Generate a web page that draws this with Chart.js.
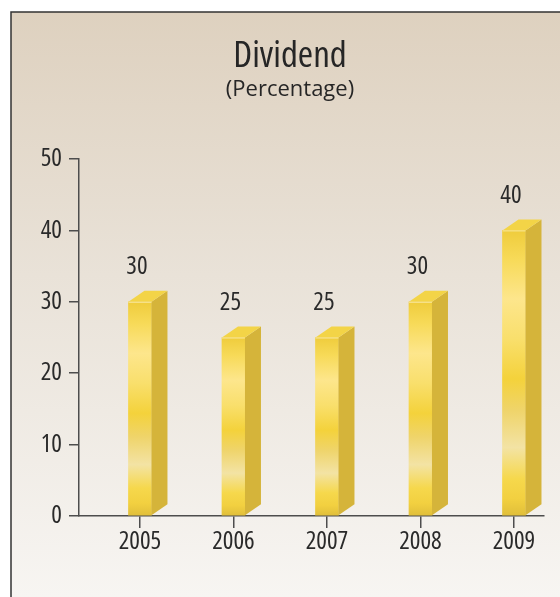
<!DOCTYPE html>
<html>
<head>
<meta charset="utf-8">
<title>Dividend</title>
<script src="https://cdn.jsdelivr.net/npm/chart.js@4/dist/chart.umd.min.js"></script>
<style>
  html, body { margin: 0; padding: 0; background: #ffffff; }
  #wrap { width: 560px; height: 597px; }
</style>
</head>
<body>
<div id="wrap"><canvas id="chart" width="560" height="597"></canvas></div>
<script>
// Dividend per year, in percent
const years = ['2005', '2006', '2007', '2008', '2009'];
const dividend = [30, 25, 25, 30, 40];
const yTicks = [0, 10, 20, 30, 40, 50];

// narrow humanist face: Open Sans at its condensed width
const FONT = "'Open Sans', 'Liberation Sans', sans-serif";
const NARROW = 'condensed';
const TEXT = '#2a2a2a';
const AXIS = '#4d4d4d';

// 3D depth of the bars
const DEPTH_X = 16;
const DEPTH_Y = 11;

// framed panel with a warm beige-to-white wash
const panelBackground = {
  id: 'panelBackground',
  beforeDraw(chart) {
    const { ctx, width, height } = chart;
    ctx.save();
    ctx.fillStyle = '#ffffff';
    ctx.fillRect(0, 0, width, height);
    const g = ctx.createLinearGradient(0, 12, 0, height);
    g.addColorStop(0, '#ded1bf');
    g.addColorStop(0.45, '#e9e2d8');
    g.addColorStop(1, '#f7f5f2');
    ctx.fillStyle = g;
    ctx.fillRect(11, 12, width - 11, height - 12);
    ctx.strokeStyle = '#333333';
    ctx.lineWidth = 1.5;
    ctx.beginPath();
    ctx.moveTo(11, height);
    ctx.lineTo(11, 12);
    ctx.lineTo(width, 12);
    ctx.stroke();
    ctx.restore();
  }
};

// side and top faces of each bar, plus the value above it
const bars3d = {
  id: 'bars3d',
  afterDatasetsDraw(chart) {
    const { ctx } = chart;
    const yScale = chart.scales.y;
    const meta = chart.getDatasetMeta(0);
    ctx.save();
    meta.data.forEach((bar, i) => {
      const { x, y, base, width } = bar.getProps(['x', 'y', 'base', 'width'], true);
      const left = x - width / 2;
      const right = x + width / 2;

      // side face
      ctx.fillStyle = '#d5b43a';
      ctx.beginPath();
      ctx.moveTo(right, y);
      ctx.lineTo(right + DEPTH_X, y - DEPTH_Y);
      ctx.lineTo(right + DEPTH_X, base - DEPTH_Y);
      ctx.lineTo(right, base);
      ctx.closePath();
      ctx.fill();

      // top face
      ctx.fillStyle = '#f3d447';
      ctx.beginPath();
      ctx.moveTo(left, y);
      ctx.lineTo(left + DEPTH_X, y - DEPTH_Y);
      ctx.lineTo(right + DEPTH_X, y - DEPTH_Y);
      ctx.lineTo(right, y);
      ctx.closePath();
      ctx.fill();

      // light edge between top and front
      ctx.strokeStyle = '#f8e79c';
      ctx.lineWidth = 1;
      ctx.beginPath();
      ctx.moveTo(left, y + 0.5);
      ctx.lineTo(right, y + 0.5);
      ctx.stroke();

      // value label
      const v = chart.data.datasets[0].data[i].y;
      ctx.fillStyle = TEXT;
      ctx.font = NARROW + ' 25px ' + FONT;
      ctx.textAlign = 'center';
      ctx.textBaseline = 'middle';
      ctx.fillText(String(v), x - 3, yScale.getPixelForValue(v) - 35);
    });
    ctx.restore();
  }
};

function frontGradient(context) {
  const chart = context.chart;
  const yScale = chart.scales && chart.scales.y;
  if (!yScale || context.type !== 'data' || !context.raw) return '#f4d23a';
  const top = yScale.getPixelForValue(context.raw.y);
  const bottom = yScale.getPixelForValue(0);
  if (!isFinite(top) || !isFinite(bottom) || top === bottom) return '#f4d23a';
  const g = chart.ctx.createLinearGradient(0, top, 0, bottom);
  g.addColorStop(0.00, '#efcc3c');
  g.addColorStop(0.10, '#f7da58');
  g.addColorStop(0.24, '#fde68c');
  g.addColorStop(0.38, '#f9df6c');
  g.addColorStop(0.52, '#f4d23b');
  g.addColorStop(0.63, '#efd46a');
  g.addColorStop(0.76, '#f3e3a4');
  g.addColorStop(0.87, '#f6d84c');
  g.addColorStop(0.94, '#f2d040');
  g.addColorStop(1.00, '#e0be3a');
  return g;
}

new Chart(document.getElementById('chart'), {
  type: 'bar',
  data: {
    datasets: [{
      data: years.map((yr, i) => ({ x: Number(yr), y: dividend[i] })),
      backgroundColor: frontGradient,
      borderWidth: 0,
      barThickness: 23
    }]
  },
  options: {
    responsive: false,
    animation: false,
    devicePixelRatio: 1,
    layout: { padding: { top: 0, left: 36, right: 16, bottom: 0 } },
    plugins: {
      legend: { display: false },
      tooltip: { enabled: false },
      title: {
        display: true,
        text: 'Dividend',
        color: '#262626',
        font: { family: FONT, size: 37, weight: NARROW, lineHeight: 1.2 },
        padding: { top: 34.6, bottom: 0 }
      },
      subtitle: {
        display: true,
        text: '(Percentage)',
        color: '#262626',
        font: { family: FONT, size: 22, weight: 'normal', lineHeight: 0.982 },
        padding: { top: 0, bottom: 58.4 }
      }
    },
    scales: {
      x: {
        type: 'linear',
        offset: false,
        min: 2004.348,
        max: 2009.321,
        afterBuildTicks(scale) {
          scale.ticks = years.map(yr => ({ value: Number(yr) }));
        },
        afterFit(scale) { scale.height = 81; },
        ticks: {
          color: TEXT,
          font: { family: FONT, size: 25, weight: NARROW, lineHeight: 1.1 },
          padding: 0,
          maxRotation: 0,
          autoSkip: false,
          callback: v => String(v)
        },
        grid: {
          offset: false,
          drawOnChartArea: false,
          drawTicks: true,
          tickLength: 12,
          color: AXIS,
          lineWidth: 1.5
        },
        border: { display: true, color: AXIS, width: 1.5 }
      },
      y: {
        min: 0,
        max: 50,
        afterBuildTicks(scale) {
          scale.ticks = yTicks.map(v => ({ value: v }));
        },
        afterFit(scale) { scale.width = 43; },
        ticks: {
          color: TEXT,
          font: { family: FONT, size: 25, weight: NARROW },
          padding: 7,
          callback: v => String(v)
        },
        grid: {
          drawOnChartArea: false,
          drawTicks: true,
          tickLength: 10,
          color: AXIS,
          lineWidth: 1.5
        },
        border: { display: true, color: AXIS, width: 1.5 }
      }
    }
  },
  plugins: [panelBackground, bars3d]
});
</script>
</body>
</html>
